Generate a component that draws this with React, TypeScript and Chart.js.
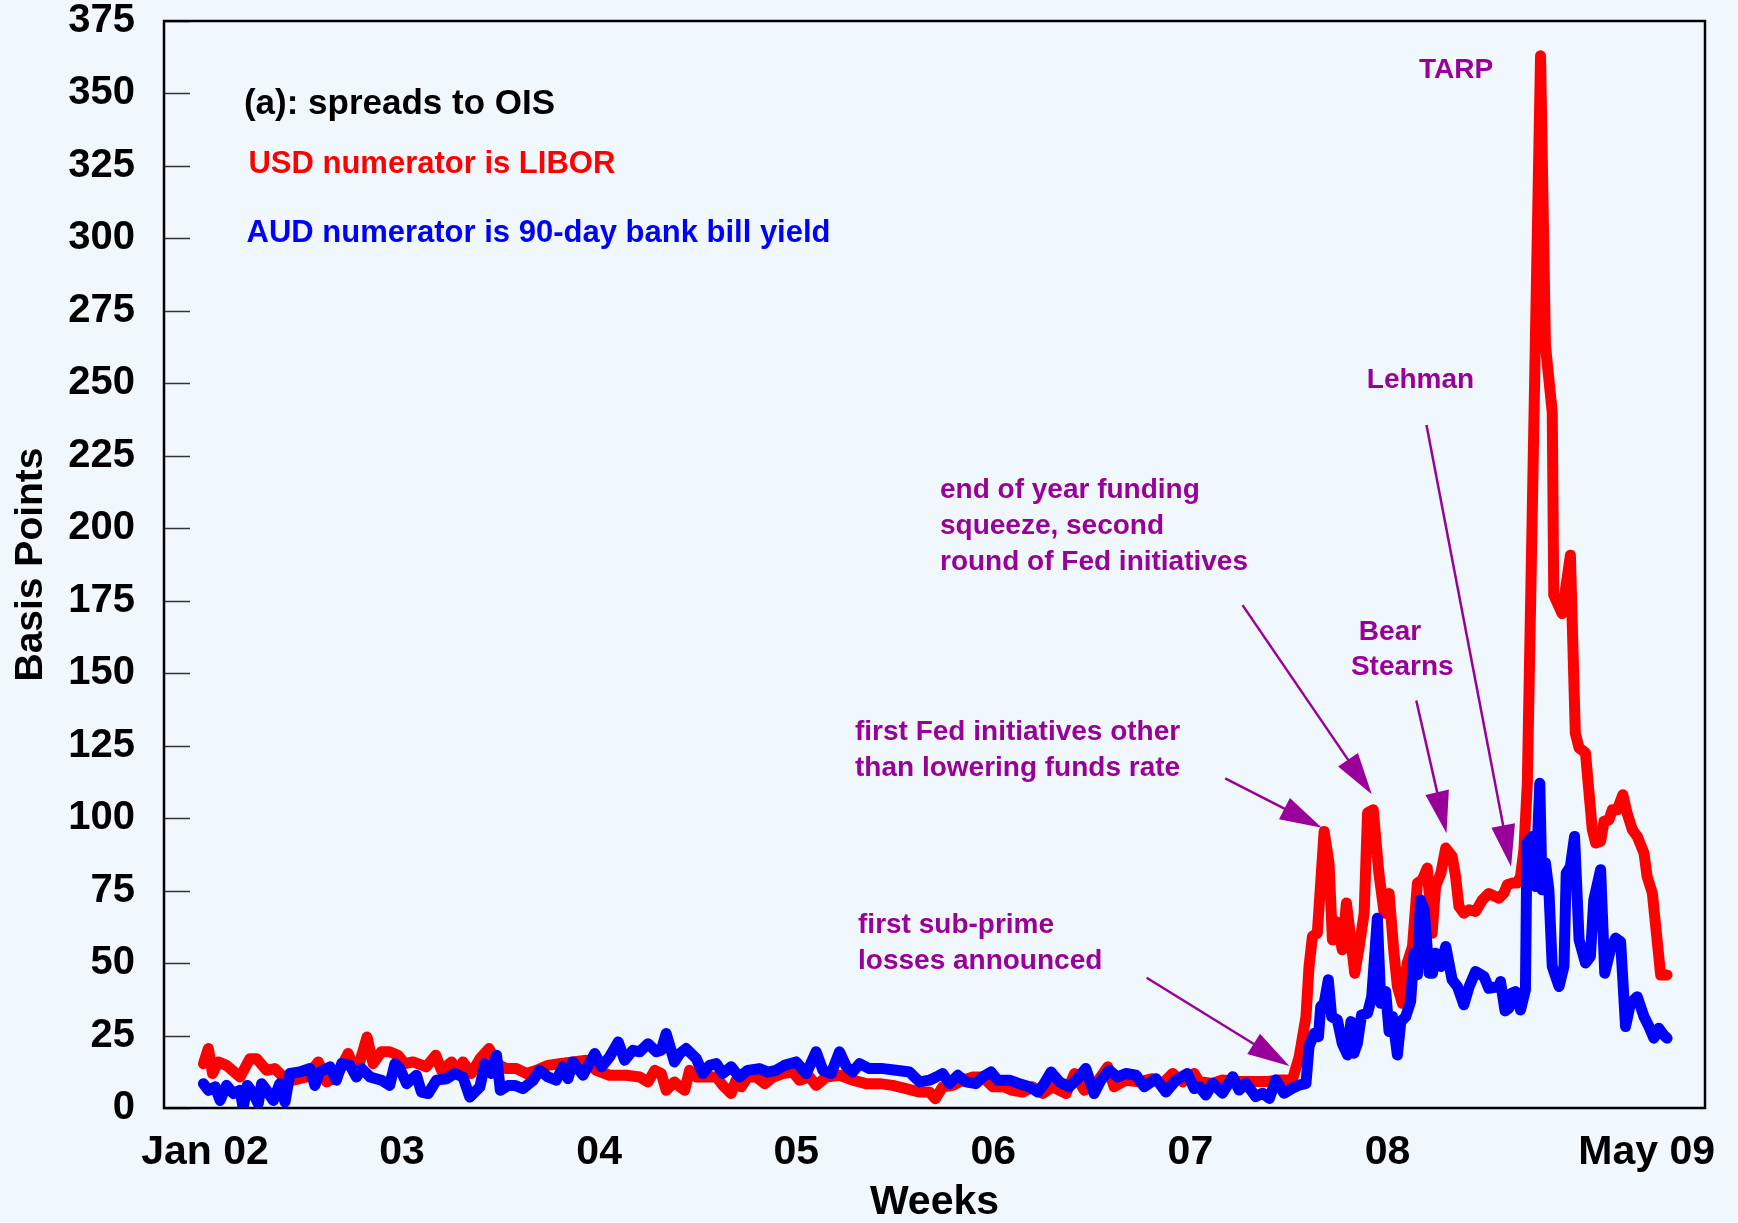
import React, { useEffect, useRef } from 'react';
import { Chart, registerables } from 'chart.js';

Chart.register(...registerables);

// ---- data (x = weeks since first week of Jan 2002, y = basis points) ----
const usdWeeks = [
  -0.4, 0.9, 2.0, 3.5, 5.7, 9.3, 11.9, 13.7, 16.3, 18.5, 20.7, 23.4, 26.9, 30, 32.2, 34.8, 37.9, 40.1, 42.9, 44.5,
  46.7, 48.9, 51.1, 52.9, 55.1, 58.6, 61.1, 62.6, 65.3, 66.6, 68.3, 70.5, 72.8, 75.2, 77.2, 79.8, 82.5, 85.1, 87.8,
  90.8, 93.9, 97.4, 101, 103.6, 107.1, 111.6, 115.1, 117.3, 119.1, 120.8, 122.1, 124.3,
  125.7, 127, 128.3, 130.1, 132.7, 135.4, 137.1, 139.3, 140.6, 142, 143.7, 146, 148.2, 150.4, 153, 155.6, 157.4,
  160.1, 161.8, 164.5, 168, 171.5, 175, 178.6, 182.1, 185.6, 189.2, 191.8, 193.4, 195.3, 198, 200.6, 203.3, 205.9,
  208.6, 211.6, 213.8, 216.5, 219.1, 221.8, 224.4, 228, 230.2, 232.8, 235.9, 239, 240.7, 243.8, 247.3, 250.9, 253.5,
  256.2, 258.8, 261.9,
  263.2, 266.8, 269.4, 272.9, 276.5, 280.9, 284.4, 287.9, 289.7, 291.5, 292.3, 293.2, 294.5, 295.2, 296.3, 297.6,
  298.5, 299.4, 300.3, 301.1, 302.2, 303.4, 304.4, 305.6, 306.9, 307.8, 309.3, 310.8, 312.2, 313.5, 314.8, 315.7,
  317, 318.3, 319.7, 321, 322.3, 323.6, 324.9, 325.8, 327.2, 328.5, 330.2, 331.1, 332, 333.3, 334.7, 336.4, 338.2,
  339.9, 342.6,
  343.9, 344.8, 346.1, 347.4, 348.3, 349.2, 350.1, 353.6, 354.9, 356.7, 357.1, 359.3, 361.5, 362.8, 363.8, 365.5,
  367.3, 368.2, 369.5, 370.4, 371.7, 372.6, 373.9, 375.4, 376.5, 377.9, 379.2, 381, 381.8, 383.2, 384, 385.4, 387.1,
];
const usdValues = [
  15.3, 20.5, 11.9, 15.9, 14.7, 10.7, 17, 17, 13, 13.6, 10.7, 9.6, 10.7, 15.9, 9, 10.7, 18.8, 11.9, 24.5, 15.3,
  19.4, 19.4, 18.2, 15.3, 15.9, 14.2, 18.2, 13, 15.9, 11.9, 15.9, 11.9, 17, 20.5, 15.3, 13.6, 13.6, 11.9, 13,
  14.7, 15.3, 15.9, 16.5, 13, 11.3, 11.3, 10.7, 9, 13, 11.9, 6.1, 9,
  7.3, 6.1, 13, 10.7, 10.7, 10.7, 7.8, 5, 9.6, 7.3, 10.7, 10.7, 8.4, 10.7, 11.9, 12.4, 9.6,
  10.7, 7.8, 10.7, 11.3, 9.6, 8.4, 8.4, 7.8, 6.7, 5.5, 5.5, 3.2, 7.3, 7.8, 9.6, 10.7, 10.7,
  7.3, 7.3, 6.1, 5.5, 7.3, 5, 7.3, 5, 11.9, 6.1, 8.4, 14.2, 7.3, 9.6, 9, 10.1, 8.4,
  11.9, 9, 11.9,
  9.1, 8.5, 9.7, 9.1, 9.1, 9.1, 9.7, 9.7, 17.7, 31.5, 48.8, 59.2, 60.3, 74, 95.4, 84.5,
  58, 64.3, 60.3, 54.6, 70.7, 58, 46.5, 55.7, 67.2, 101.8, 102.9, 81, 67.2, 74, 53.4, 41.9,
  36.1, 50, 55.7, 77.6, 78.7, 82.8, 60.3, 76.4, 81, 89.7, 86.8, 79.9, 69.5, 67.2, 68.4, 67.8, 71.8,
  74, 72.4,
  74.1, 77, 77.6, 77.6, 79.9, 89.1, 112.1, 363, 263, 240, 177, 170.6, 190.7, 129.4, 124.2, 122.5,
  96, 91.4, 92, 98.9, 99.4, 102.9, 102.9, 108.1, 101.8, 96, 93.7, 87.9, 79.9, 74.1, 63.8, 45.9, 45.9,
];

const audWeeks = [
  -0.4, 0.9, 2.7, 4.0, 5.7, 7.5, 9.3, 10.1, 11.2, 12.8, 14.1, 15, 16.3, 18.1, 19.8, 21.2, 22.5, 25.1, 27.8, 29.1,
  30.4, 33.1, 34.8, 36.2, 38.4, 40.1, 41.5, 43.7, 46.7, 48.9, 50.3, 51.6, 53.4, 56, 57.3, 59.1, 61.3, 63.9, 66.1,
  68.3, 70.1, 72.8, 74.1, 75.8, 77.2, 78.2, 80.3, 82, 84.2, 86.9, 88.6, 90.8, 93, 94.8, 96.1, 97.4, 100.1, 103.2,
  105, 107.1, 109.4, 111.1, 113.3, 115.1, 117.3, 119.5, 120.8, 122.1, 124.3,
  125.7, 127.4, 130.1, 131.8, 133.6, 135.4, 137.1, 139.3, 141.5, 143.7, 146.8, 149, 151.2, 153.4, 156.5, 159.2,
  161.8, 163.6, 165.8, 168, 169.8, 171.5, 173.3, 175.9, 179.5, 183, 186.5, 189.2, 191.8, 193.6, 195.3, 197.1,
  199.3, 201.5, 204.1, 205.9, 208.1, 209.9, 213, 215.6, 218.3, 220.5, 222.2, 224, 226.2, 228.8, 231, 233.2, 235.4,
  237.2, 239.4, 241.6, 243.8, 246.5, 248.7, 251.8, 254.4, 257.1, 260.1, 261.9,
  263.2, 265, 266.8, 269.4, 272.1, 273.8, 275.6, 278.2, 280, 281.8, 283.5, 285.7, 287.9, 289.7, 291.5, 292.3,
  293.7, 294.8, 295.4, 296.3, 297.4, 298.3, 299.8, 301.1, 302.5, 303.4, 304.2, 305.1, 306.2, 307.8, 308.9, 310.4,
  311.3, 312.6, 313.5, 314.4, 315.7, 316.6, 317.9, 319.2, 320.1, 321, 321.8, 322.8, 324.1, 325, 325.8, 327.2,
  328.5, 330.2, 331.6, 333.3, 334.7, 336.4, 338.6, 339.9, 342.6,
  343, 344.2, 345.2, 345.9, 347, 348.3, 349.6, 350, 351.4, 352.3, 353.4, 354, 354.9, 355.8, 356.7, 358.5, 359.8,
  360.4, 361.5, 362.6, 363.8, 365.5, 366.8, 367.7, 369.5, 370.6, 372.1, 373.5, 374.8, 376.1, 377.4, 379.2, 381,
  382.3, 383.6, 384.9, 386.2, 387.1,
];
const audValues = [
  8.4, 6.1, 7.3, 2.6, 7.8, 5, 6.1, 0, 7.8, 5, 1.5, 8.4, 6.1, 2.6, 8.4, 2.1, 11.9, 12.4, 13.6, 7.8,
  12.4, 14.2, 9.6, 15.3, 14.7, 10.7, 13.6, 10.7, 9.6, 7.8, 15.3, 13.6, 8.4, 11.3, 5.5, 5, 9.6, 10.1, 11.9,
  10.7, 3.8, 7.3, 15.3, 11.9, 18.2, 6.1, 7.8, 7.8, 6.7, 9.6, 13, 10.7, 9.6, 14.2, 10.1, 15.9, 11.3, 18.8,
  14.2, 17.6, 22.8, 16.5, 19.9, 19.4, 22.2, 19.4, 19.9, 25.7, 15.9,
  18.8, 20.5, 17, 11.9, 14.7, 15.3, 11.9, 14.2, 10.7, 13, 13.6, 12.4, 13, 14.7, 15.9, 11.9,
  19.4, 13, 11.9, 19.4, 14.2, 12.4, 15.3, 13.6, 13.6, 13, 12.4, 9, 9.6, 10.7, 11.9, 8.4,
  11.3, 9, 8.4, 10.7, 12.4, 9.6, 9.6, 8.4, 7.3, 5.5, 8.4, 12.4, 9, 7.3, 10.1, 13.6, 5,
  9.6, 13, 10.7, 11.9, 11.3, 7.3, 10.1, 5.5, 9.6, 11.9, 6.7,
  7.4, 4.5, 8.5, 5.1, 10.8, 6.2, 8.5, 3.9, 5.1, 3.3, 9.7, 5.1, 6.8, 7.9, 8.5, 21.2,
  25.8, 24.6, 35, 36.1, 44.2, 31.5, 30.4, 22.3, 18.3, 29.8, 18.9, 22.3, 32.1, 32.7, 38.4, 65.5,
  36.1, 40.2, 26.4, 31.5, 18.3, 29.8, 31.5, 36.7, 53.4, 46, 71.8, 68.4, 46.5, 46.5, 53.4, 48.8,
  55.7, 44.2, 41.9, 35.6, 41.9, 47.1, 45.4, 41.3, 41.9,
  43.6, 33.5, 34.4, 39.6, 40.2, 33.8, 40.7, 91.4, 93.7, 76.4, 112, 75.3, 84.5, 75.3, 48.8, 41.9, 48.8,
  81, 83.3, 93.7, 58, 50, 52.3, 71.8, 82.2, 46.5, 54.6, 58.6, 57.4, 28.1, 36.1, 38.4, 31.5,
  28.1, 24.1, 27.5, 25.2, 24.1,
];

const xTickWeeks = [0, 52.18, 104.36, 156.54, 208.72, 260.9, 313.08, 381.7];
const xTickLabels = ['Jan 02', '03', '04', '05', '06', '07', '08', 'May 09'];
const xMin = -10.85;
const xMax = 397.14;
const yMin = 0;
const yMax = 375;
const yStep = 25;

// ---- annotations (anchored in data coordinates) ----
const notes = [
  { text: '(a): spreads to OIS', w: 10.3, v: 346.3, color: '#000000', size: 35 },
  { text: 'USD numerator is LIBOR', w: 11.5, v: 325.6, color: '#ff0000', size: 31 },
  { text: 'AUD numerator is 90-day bank bill yield', w: 11.0, v: 301.6, color: '#0000ff', size: 31 },
  { text: 'TARP', w: 321.4, v: 358.1, color: '#990099', size: 28 },
  { text: 'Lehman', w: 307.6, v: 251.1, color: '#990099', size: 28 },
  { text: 'end of year funding', w: 194.6, v: 213.2, color: '#990099', size: 28 },
  { text: 'squeeze, second', w: 194.6, v: 200.8, color: '#990099', size: 28 },
  { text: 'round of Fed initiatives', w: 194.6, v: 188.4, color: '#990099', size: 28 },
  { text: 'Bear', w: 305.5, v: 164.2, color: '#990099', size: 28 },
  { text: 'Stearns', w: 303.4, v: 152.1, color: '#990099', size: 28 },
  { text: 'first Fed initiatives other', w: 172.1, v: 129.7, color: '#990099', size: 28 },
  { text: 'than lowering funds rate', w: 172.1, v: 117.3, color: '#990099', size: 28 },
  { text: 'first sub-prime', w: 172.9, v: 63.2, color: '#990099', size: 28 },
  { text: 'losses announced', w: 172.9, v: 50.7, color: '#990099', size: 28 },
];

const arrows = [
  { from: [249.3, 44.95], to: [287.1, 14.5] },
  { from: [270.1, 113.7], to: [295.7, 96.7] },
  { from: [274.7, 173.5], to: [308.9, 108.2] },
  { from: [320.7, 140.6], to: [328.7, 94.8] },
  { from: [323.4, 235.6], to: [345.8, 83.2] },
];

const FONT = '"Liberation Sans", Arial, Helvetica, sans-serif';
const PURPLE = '#990099';

const framePlugin = {
  id: 'frame',
  beforeDatasetsDraw(chart: any) {
    const { ctx, chartArea: a, scales } = chart;
    const y = scales.y;
    ctx.save();
    ctx.strokeStyle = '#333333';
    ctx.lineWidth = 1.5;
    y.ticks.forEach((t: any) => {
      const py = Math.round(y.getPixelForValue(t.value)) + 0.5;
      ctx.beginPath();
      ctx.moveTo(a.left, py);
      ctx.lineTo(a.left + 26, py);
      ctx.stroke();
    });
    ctx.strokeStyle = '#000000';
    ctx.lineWidth = 2.5;
    ctx.strokeRect(a.left, a.top, a.right - a.left, a.bottom - a.top);
    ctx.restore();
  },
};

const notesPlugin = {
  id: 'notes',
  afterDatasetsDraw(chart: any) {
    const { ctx, scales } = chart;
    const x = scales.x;
    const y = scales.y;
    ctx.save();
    arrows.forEach((ar) => {
      const x0 = x.getPixelForValue(ar.from[0]);
      const y0 = y.getPixelForValue(ar.from[1]);
      const x1 = x.getPixelForValue(ar.to[0]);
      const y1 = y.getPixelForValue(ar.to[1]);
      const ang = Math.atan2(y1 - y0, x1 - x0);
      const L = 42;
      const H = 12;
      const bx = x1 - L * Math.cos(ang);
      const by = y1 - L * Math.sin(ang);
      ctx.strokeStyle = PURPLE;
      ctx.fillStyle = PURPLE;
      ctx.lineWidth = 2.5;
      ctx.beginPath();
      ctx.moveTo(x0, y0);
      ctx.lineTo(bx + 6 * Math.cos(ang), by + 6 * Math.sin(ang));
      ctx.stroke();
      ctx.beginPath();
      ctx.moveTo(x1, y1);
      ctx.lineTo(bx - H * Math.sin(ang), by + H * Math.cos(ang));
      ctx.lineTo(bx + H * Math.sin(ang), by - H * Math.cos(ang));
      ctx.closePath();
      ctx.fill();
    });
    ctx.textAlign = 'left';
    ctx.textBaseline = 'middle';
    notes.forEach((n) => {
      ctx.font = `bold ${n.size}px ${FONT}`;
      ctx.fillStyle = n.color;
      ctx.fillText(n.text, x.getPixelForValue(n.w), y.getPixelForValue(n.v));
    });
    ctx.restore();
  },
};

export default function App() {
  const ref = useRef<HTMLCanvasElement>(null);

  useEffect(() => {
    const canvas = ref.current;
    if (!canvas) return;
    const usdData = usdWeeks.map((w, i) => ({ x: w, y: usdValues[i] }));
    const audData = audWeeks.map((w, i) => ({ x: w, y: audValues[i] }));

    const lineStyle = {
      borderWidth: 11,
      pointRadius: 0,
      tension: 0,
      borderJoinStyle: 'round',
      borderCapStyle: 'round',
    };

    const chart = new Chart(canvas, {
      type: 'line',
      data: {
        datasets: [
          {
            label: 'AUD numerator is 90-day bank bill yield',
            data: audData,
            borderColor: '#0000ff',
            backgroundColor: '#0000ff',
            order: 0,
            ...lineStyle,
          },
          {
            label: 'USD numerator is LIBOR',
            data: usdData,
            borderColor: '#ff0000',
            backgroundColor: '#ff0000',
            order: 1,
            ...lineStyle,
          },
        ],
      },
      options: {
        animation: false,
        responsive: false,
        maintainAspectRatio: false,
        events: [],
        layout: { padding: { left: 0, right: 33, top: 21, bottom: 0 } },
        plugins: {
          legend: { display: false },
          tooltip: { enabled: false },
        },
        scales: {
          x: {
            type: 'linear',
            min: xMin,
            max: xMax,
            bounds: 'data',
            grid: { display: false, drawTicks: false },
            border: { display: false },
            afterBuildTicks: (s: any) => {
              s.ticks = xTickWeeks.map((v) => ({ value: v }));
            },
            afterFit: (s: any) => {
              s.height = 115;
              s.paddingLeft = 0;
              s.paddingRight = 0;
            },
            ticks: {
              autoSkip: false,
              maxRotation: 0,
              minRotation: 0,
              padding: 24,
              color: '#000000',
              font: { family: FONT, size: 41, weight: 'bold', lineHeight: 1 },
              callback: (_v: any, i: number) => xTickLabels[i],
            },
            title: {
              display: true,
              text: 'Weeks',
              color: '#000000',
              font: { family: FONT, size: 41, weight: 'bold', lineHeight: 1 },
              padding: { top: 0, bottom: 0 },
            },
          },
          y: {
            type: 'linear',
            min: yMin,
            max: yMax,
            grid: { display: false, drawTicks: false },
            border: { display: false },
            afterFit: (s: any) => {
              s.width = 164;
              s.paddingTop = 0;
              s.paddingBottom = 0;
            },
            ticks: {
              stepSize: yStep,
              padding: 29,
              color: '#000000',
              font: { family: FONT, size: 40, weight: 'bold', lineHeight: 1 },
            },
            title: {
              display: true,
              text: 'Basis Points',
              color: '#000000',
              font: { family: FONT, size: 39, weight: 'bold', lineHeight: 1 },
              padding: { top: 12, bottom: 0 },
            },
          },
        },
      } as any,
      plugins: [framePlugin, notesPlugin],
    });
    return () => chart.destroy();
  }, []);

  return (
    <div
      style={{
        position: 'fixed',
        left: 0,
        top: 0,
        width: 1738,
        height: 1223,
        background: '#f1f8fd',
      }}
    >
      <canvas ref={ref} width={1738} height={1223} style={{ display: 'block', width: 1738, height: 1223 }} />
    </div>
  );
}
